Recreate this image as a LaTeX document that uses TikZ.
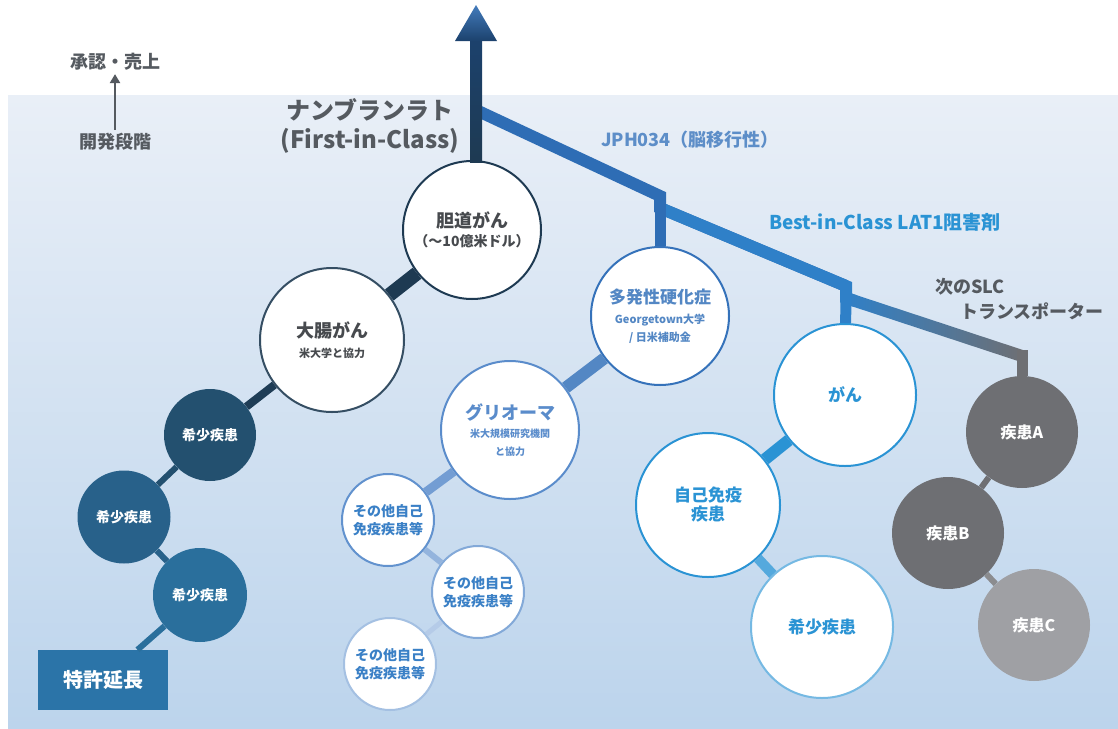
\documentclass[tikz,border=0pt]{standalone}
\usepackage{fontspec}
\setmainfont{Noto Sans CJK JP}
\usetikzlibrary{arrows.meta, calc, positioning}

\definecolor{bgtop}{HTML}{E9EFF7}
\definecolor{bgbot}{HTML}{BCD4EC}
\definecolor{inktext}{HTML}{555A60}
\definecolor{darktext}{HTML}{474A4E}
\definecolor{navy}{HTML}{1E3A52}
\definecolor{rareA}{HTML}{23506F}
\definecolor{rareB}{HTML}{28618A}
\definecolor{rareC}{HTML}{2A6F9C}
\definecolor{patent}{HTML}{2B74A8}
\definecolor{lineblue}{HTML}{2E6DB5}
\definecolor{lat}{HTML}{2F80C8}
\definecolor{msblue}{HTML}{3572BA}
\definecolor{glblue}{HTML}{5A8CCB}
\definecolor{otblue}{HTML}{3A80C6}
\definecolor{skyblue}{HTML}{2A93D4}
\definecolor{slate}{HTML}{6E6F73}
\definecolor{slatelt}{HTML}{9FA0A4}

\begin{document}
\begin{tikzpicture}[x=1pt, y=-1pt, >={Triangle[length=9pt, width=10pt]}]
    \tikzset{
        disc/.style={circle, inner sep=0pt, align=center, font=\bfseries\fontsize{14}{18}\selectfont},
        ring/.style={disc, draw=#1, fill=white, line width=2pt},
        dot/.style={disc, fill=#1, text=white},
        link/.style={line width=#1},
        head/.style={font=\bfseries\fontsize{#1}{#1}\selectfont}
    };
    \useasboundingbox (0,0) rectangle (1118,728);
    \shade[top color=bgtop, bottom color=bgbot] (8,95) rectangle (1118,728);

    % legend
    \node[head=18, text=inktext] (approve) at (115,62) {承認・売上};
    \node[head=18, text=inktext] (develop) at (115,142) {開発段階};
    \draw[->, line width=2.5pt, inktext] (develop) -- (approve);

    \node[head=24, text=inktext, align=center] (nanv) at (370,126) {ナンブランラト\\[5pt](First-in-Class)};

    % circles
    \node[ring=navy, minimum size=138pt, text=darktext] (bile) at (472,230)
        {\fontsize{18}{22}\selectfont 胆道がん\\[1pt]\fontsize{14}{18}\selectfont （～10億米ドル）};
    \node[ring={navy!90!white}, minimum size=144pt, text=darktext] (colon) at (332,340)
        {\fontsize{18}{22}\selectfont 大腸がん\\[2pt]\fontsize{11}{14}\selectfont 米大学と協力};
    \node[dot=rareA, minimum size=92pt] (rare1) at (210,435) {希少疾患};
    \node[dot=rareB, minimum size=93pt] (rare2) at (124,517) {希少疾患};
    \node[dot=rareC, minimum size=94pt] (rare3) at (200,595) {希少疾患};
    \node[fill=patent, text=white, minimum width=130pt, minimum height=60pt,
        head=20] (patent) at (103,680) {特許延長};

    \node[ring=msblue, minimum size=138pt, text=msblue!85!white] (ms) at (660,316)
        {\fontsize{17}{21}\selectfont 多発性硬化症\\[2pt]\fontsize{11}{14}\selectfont Georgetown大学\\\fontsize{11}{14}\selectfont / 日米補助金};
    \node[ring=glblue, minimum size=138pt, text=glblue] (glioma) at (510,430)
        {\fontsize{18}{22}\selectfont グリオーマ\\\fontsize{10}{13}\selectfont 米大規模研究機関\\\fontsize{10}{13}\selectfont と協力};
    \node[ring={glblue!95!white}, minimum size=92pt, text=otblue] (other1) at (388,520) {その他自己\\免疫疾患等};
    \node[ring={glblue!75!white}, minimum size=92pt, text=otblue] (other2) at (478,592) {その他自己\\免疫疾患等};
    \node[ring={glblue!55!white}, minimum size=92pt, text=otblue] (other3) at (390,664) {その他自己\\免疫疾患等};

    \node[ring=skyblue, minimum size=142pt, text=skyblue, head=17] (cancer) at (845,395) {がん};
    \node[ring=skyblue, minimum size=144pt, text=skyblue, head=17] (autoimm) at (708,505) {自己免疫\\[2pt]疾患};
    \node[ring={skyblue!65!white}, minimum size=142pt, text=skyblue, head=17] (rareb) at (822,627) {希少疾患};

    \node[dot=slate, minimum size=112pt, head=16] (dA) at (1022,432) {疾患A};
    \node[dot=slate, minimum size=112pt, head=16] (dB) at (948,533) {疾患B};
    \node[dot=slatelt, minimum size=112pt, head=16] (dC) at (1034,625) {疾患C};

    % links between circles
    \path
        (bile) edge[link=14pt, navy] (colon)
        (colon) edge[link=8pt, navy!85!rareA] (rare1)
        (rare1) edge[link=6pt, rareA] (rare2)
        (rare2) edge[link=6pt, rareB] (rare3)
        (rare3) edge[link=6pt, rareC] (patent)
        (ms) edge[link=12pt, msblue!85!white] (glioma)
        (glioma) edge[link=9pt, glblue!85!white] (other1)
        (other1) edge[link=6pt, glblue!65!white] (other2)
        (other2) edge[link=5pt, glblue!45!white] (other3)
        (cancer) edge[link=12pt, skyblue] (autoimm)
        (autoimm) edge[link=10pt, skyblue!80!white] (rareb)
        (dA) edge[link=6pt, slate] (dB)
        (dB) edge[link=6pt, slate!80!white] (dC)
    ;

    % stair line
    \coordinate (s0) at (476,110);
    \coordinate (k1) at (660,196);
    \coordinate (k1b) at (660,208);
    \coordinate (k2) at (846,286);
    \coordinate (k2b) at (846,298);
    \coordinate (k3) at (1022,356);
    \draw[line width=12pt, lineblue] (s0) -- (k1) -- (k1b) -- (k2);
    \draw[line width=12pt, lat] (k1b) -- (k2) -- (k2b) -- ($(k2b)!10pt!(k3)$);
    \shade[left color=lat, middle color={slate!75!lat}, right color=slate]
        ($(k2b)!6pt!90:(k3)$) -- ($(k3)!6pt!-90:(k2b)$) -- ($(k3)!6pt!90:(k2b)$) -- ($(k2b)!6pt!-90:(k3)$) -- cycle;
    \draw[line width=11pt, lineblue] (k1) -- (ms);
    \draw[line width=11pt, lat] (k2) -- (cancer);
    \draw[line width=11pt, slate] ($(k3)+(0,-6)$) -- (dA);

    % main arrow
    \coordinate (peak) at (476,5);
    \shade[top color={lineblue!60!black}, middle color=black!95!navy, bottom color=navy] (470,40) rectangle (482,162);
    \shade[top color={lineblue!90!white}, bottom color={lineblue!60!black}] (peak) -- (497,41) -- (455,41) -- cycle;

    \node[head=18, text=msblue!80!white] (jph) at (690,140) {JPH034（脳移行性）};
    \node[head=19, text=skyblue] (best) at (885,222) {Best-in-Class LAT1阻害剤};
    \node[head=18, text=inktext] (slc1) at (970,287) {次のSLC};
    \node[head=18, text=inktext] (slc2) at (1032,311) {トランスポーター};
\end{tikzpicture}
\end{document}
